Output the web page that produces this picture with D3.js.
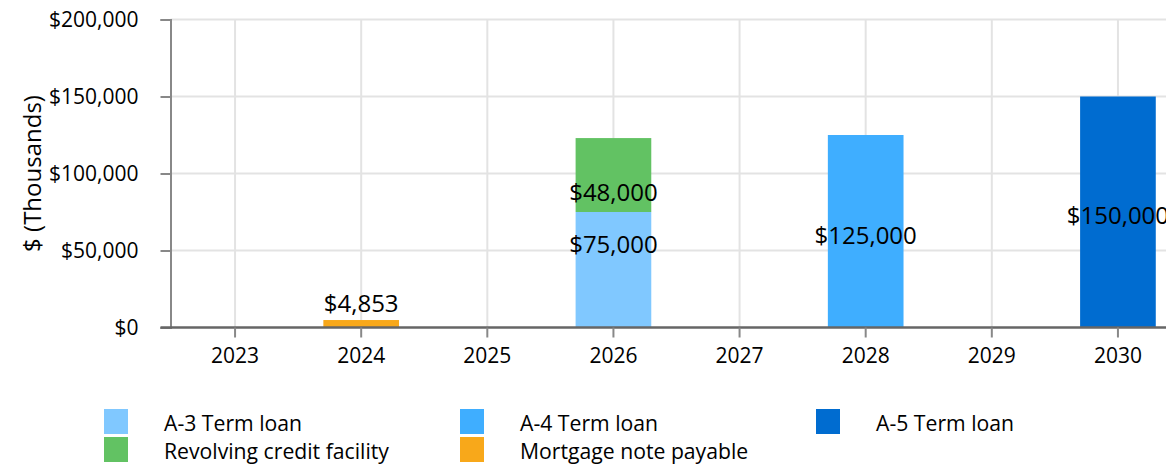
<!DOCTYPE html>
<html>
<head>
<meta charset="utf-8">
<script src="https://cdn.jsdelivr.net/npm/d3@7"></script>
<style>
  html, body { margin: 0; padding: 0; background: #fff; }
  svg { display: block; }
  text { font-family: "Open Sans", "Noto Sans", sans-serif; fill: #000; }
</style>
</head>
<body>
<svg id="chart" width="1166" height="464"></svg>
<script>
// ---- data ----
const years = ["2023", "2024", "2025", "2026", "2027", "2028", "2029", "2030"];
const seriesNames = ["A-3 Term loan", "A-4 Term loan", "A-5 Term loan", "Revolving credit facility", "Mortgage note payable"];
const seriesColors = ["#80C8FF", "#3FAEFF", "#006CD0", "#62C263", "#F8A81A"];
const a3TermLoan   = [0, 0, 0, 75000, 0, 0, 0, 0];
const a4TermLoan   = [0, 0, 0, 0, 0, 125000, 0, 0];
const a5TermLoan   = [0, 0, 0, 0, 0, 0, 0, 150000];
const revolving    = [0, 0, 0, 48000, 0, 0, 0, 0];
const mortgageNote = [0, 4853, 0, 0, 0, 0, 0, 0];
const yTicks = [0, 50000, 100000, 150000, 200000];
const yTitle = "$ (Thousands)";

const seriesValues = [a3TermLoan, a4TermLoan, a5TermLoan, revolving, mortgageNote];
const stackOrder = [0, 1, 2, 3, 4];

// ---- layout ----
const svg = d3.select("#chart");
const x0 = 172, x1 = 1181, yTop = 19.5, yBot = 327.5, axisX = 170.5;

const x = d3.scaleBand().domain(years).range([x0, x1]).paddingInner(0.4).paddingOuter(0.2);
const y = d3.scaleLinear().domain([0, 200000]).range([yBot, yTop]);
const fmt = v => "$" + d3.format(",")(v);

// horizontal gridlines
svg.append("g").selectAll("line").data(yTicks.filter(t => t > 0)).join("line")
  .attr("x1", axisX).attr("x2", 1166)
  .attr("y1", d => y(d)).attr("y2", d => y(d))
  .attr("stroke", "#E3E3E3").attr("stroke-width", 2);

// vertical gridlines at band centers
svg.append("g").selectAll("line").data(years).join("line")
  .attr("x1", d => x(d) + x.bandwidth() / 2).attr("x2", d => x(d) + x.bandwidth() / 2)
  .attr("y1", yTop).attr("y2", yBot)
  .attr("stroke", "#E3E3E3").attr("stroke-width", 2);

// stacked data
const table = years.map((yr, i) => {
  const row = { year: yr };
  seriesNames.forEach((n, s) => row[n] = seriesValues[s][i]);
  return row;
});
const stack = d3.stack().keys(stackOrder.map(s => seriesNames[s]));
const stacked = stack(table);

const barsG = svg.append("g");
stacked.forEach((layer, li) => {
  const s = stackOrder[li];
  barsG.selectAll(null).data(layer.filter(d => d[1] - d[0] > 0)).join("rect")
    .attr("x", d => x(d.data.year))
    .attr("width", x.bandwidth())
    .attr("y", d => y(d[1]))
    .attr("height", d => y(d[0]) - y(d[1]))
    .attr("fill", seriesColors[s]);
});

// y axis
const yAxis = d3.axisLeft(y).tickValues(yTicks).tickFormat(fmt).tickSize(10).tickPadding(22);
const gy = svg.append("g").attr("transform", `translate(${axisX},0)`).call(yAxis);
gy.select(".domain").attr("stroke", "#888").attr("stroke-width", 2);
gy.selectAll(".tick line").attr("stroke", "#888").attr("stroke-width", 2);
gy.selectAll(".tick text").style("font-family", '"Open Sans", sans-serif').style("font-size", "21px").attr("fill", "#000");

// x axis
const xAxis = d3.axisBottom(x).tickSize(10).tickPadding(11).tickSizeOuter(0);
const gx = svg.append("g").attr("transform", `translate(0,${yBot})`).call(xAxis);
gx.select(".domain").attr("d", `M${axisX - 10},0H1166`).attr("stroke", "#666").attr("stroke-width", 2.5);
gx.selectAll(".tick line").attr("stroke", "#888").attr("stroke-width", 2);
gx.selectAll(".tick text").style("font-family", '"Open Sans", sans-serif').style("font-size", "21px").attr("fill", "#000");

// y title
svg.append("text")
  .attr("transform", `translate(31,${(yTop + yBot) / 2}) rotate(-90)`)
  .attr("text-anchor", "middle").attr("dominant-baseline", "central")
  .style("font-size", "24px").text(yTitle);

// data labels
const labels = [];
stacked.forEach((layer, li) => {
  layer.forEach((d, i) => {
    const v = d[1] - d[0];
    if (v <= 0) return;
    const nSeg = stacked.filter(L => L[i][1] - L[i][0] > 0).length;
    const mid = (d[0] + d[1]) / 2;
    let yPos;
    if (y(d[0]) - y(d[1]) < 30) {
      yPos = y(d[1]) - 20;
    } else if (nSeg > 1) {
      const isBottom = d[0] === 0;
      const boundary = isBottom ? d[1] : d[0];
      const f = isBottom ? 0.5 : 0.36;
      yPos = y(mid) + (y(boundary) - y(mid)) * f;
    } else {
      yPos = y(mid);
    }
    labels.push({ x: x(d.data.year) + x.bandwidth() / 2, y: yPos, t: fmt(v) });
  });
});
svg.append("g").selectAll("text").data(labels).join("text")
  .attr("x", d => d.x).attr("y", d => d.y)
  .attr("text-anchor", "middle").attr("dominant-baseline", "central")
  .attr("dy", "0.12em")
  .style("font-size", "24px").text(d => d.t);

// legend
const legendOrder = [0, 1, 2, 3, 4];
const lg = svg.append("g");
legendOrder.forEach((s, k) => {
  const col = k % 3, row = Math.floor(k / 3);
  const lx = 104 + col * 356, ly = 409 + row * 28;
  lg.append("rect").attr("x", lx).attr("y", ly).attr("width", 24).attr("height", 25).attr("fill", seriesColors[s]);
  lg.append("text").attr("x", lx + 60).attr("y", ly + 13).attr("dominant-baseline", "central")
    .style("font-size", "21.2px").text(seriesNames[s]);
});
</script>
</body>
</html>
